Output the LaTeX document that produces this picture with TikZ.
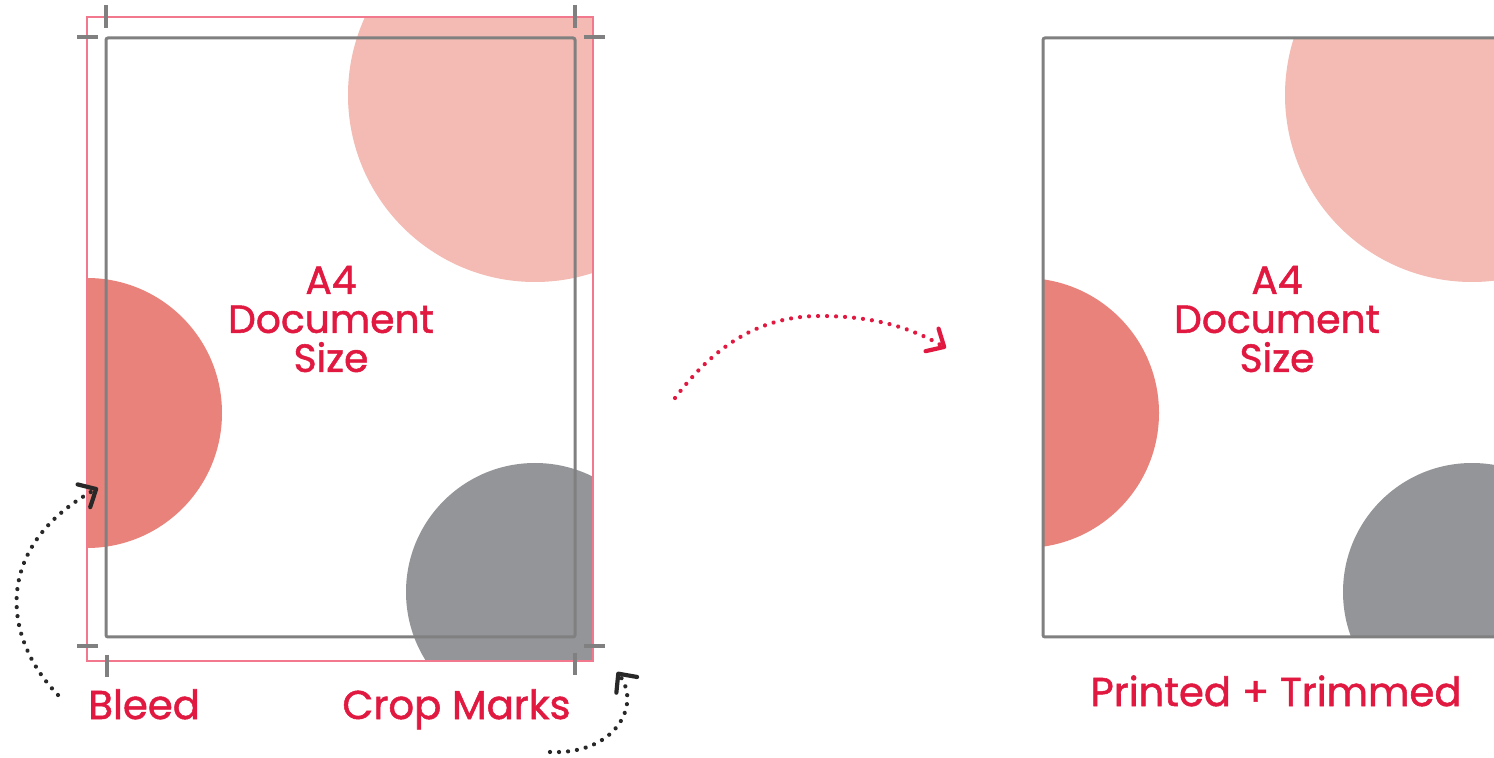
\documentclass[tikz,border=0pt]{standalone}
\usepackage{fontspec}
\setmainfont{Poppins}
\newfontfamily\medfont{Poppins}[FakeBold=1.3]
\usetikzlibrary{arrows.meta}
\definecolor{txtred}{RGB}{225,25,65}
\definecolor{bleedpink}{RGB}{242,120,142}
\definecolor{trimgray}{RGB}{128,128,128}
\definecolor{circpink}{RGB}{243,187,179}
\definecolor{circred}{RGB}{232,130,122}
\definecolor{circgray}{RGB}{147,149,152}
\definecolor{dotblack}{RGB}{40,40,40}
\begin{document}
\begin{tikzpicture}[x=0.5pt,y=-0.5pt,
  trimline/.style={draw=trimgray,line width=1.5pt,rounded corners=1pt},
  bleedline/.style={draw=bleedpink,line width=1.2pt},
  cropmark/.style={draw=trimgray,line width=1.6pt},
  dotpath/.style={line width=2.1pt,line cap=round,dash pattern=on 0.01pt off 4.5pt},
  chev/.style={-{Straight Barb[length=7pt,width=13pt,round]}},
  bigtext/.style={text=txtred,font=\medfont\fontsize{19.6}{19.5}\selectfont,align=center,inner sep=0pt},
  labeltext/.style={text=txtred,font=\medfont\fontsize{20.1}{24}\selectfont,inner sep=0pt}]
\useasboundingbox (0,0) rectangle (1494,758);
\clip (0,0) rectangle (1494,758);
\fill[white] (0,0) rectangle (1494,758);
% ---------- left page ----------
\begin{scope}
  \clip (87,17) rectangle (593,661);
  \fill[circpink] (535,95) circle[radius=187];
  \fill[circred] (87,413) circle[radius=135];
  \fill[circgray] (535,592) circle[radius=129];
\end{scope}
\draw[bleedline] (87,17) rectangle (593,661);
\draw[trimline] (106,38) rectangle (575,637);
% crop marks
\draw[cropmark] (106,5) -- (106,28);
\draw[cropmark] (77,37) -- (98,37);
\draw[cropmark] (575,5) -- (575,28);
\draw[cropmark] (584,37) -- (605,37);
\draw[cropmark] (77,646) -- (98,646);
\draw[cropmark] (107,655) -- (107,677);
\draw[cropmark] (584,646) -- (605,646);
\draw[cropmark] (575,653) -- (575,675);
\node[bigtext] (lefttitle) at (331,319) {A4\\Document\\Size};
\node[labeltext,anchor=base west] (bleedlabel) at (88,719) {Bleed};
\node[labeltext,anchor=base west] (croplabel) at (342,719) {Crop Marks};
% ---------- right page ----------
\begin{scope}
  \clip (1043,38) rectangle (1520,637);
  \fill[circpink] (1472,95) circle[radius=187];
  \fill[circred] (1024,413) circle[radius=135];
  \fill[circgray] (1472,592) circle[radius=129];
\end{scope}
\draw[trimline] (1520,38) -- (1043,38) -- (1043,637) -- (1520,637);
\node[bigtext] (righttitle) at (1277,319) {A4\\Document\\Size};
\node[labeltext,anchor=base] (printlabel) at (1276,706) {Printed + Trimmed};
% ---------- arrows ----------
\coordinate (midA) at (675,398);
\coordinate (midP) at (820,316);
\coordinate (midB) at (946,348);
\draw[dotpath,draw=txtred,chev] (midA) .. controls (715,345) and (760,316) .. (midP)
  .. controls (870,316) and (908,326) .. (midB);
\coordinate (bleedA) at (58,695);
\coordinate (bleedB) at (98,488);
\draw[dotpath,draw=dotblack,chev] (bleedA) .. controls (0,635) and (-5,545) .. (bleedB);
\coordinate (cropA) at (550,752);
\coordinate (cropB) at (617,672);
\draw[dotpath,draw=dotblack,chev] (cropA) .. controls (615,755) and (642,705) .. (cropB);
\end{tikzpicture}
\end{document}
